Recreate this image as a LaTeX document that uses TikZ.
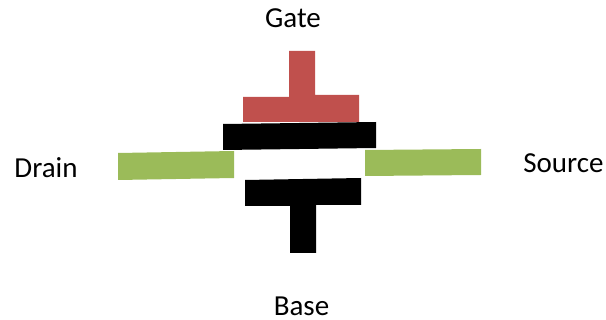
\documentclass[tikz,border=0pt]{standalone}
\usepackage{fontspec}
\setmainfont{Carlito}
\definecolor{gatered}{HTML}{C0504D}
\definecolor{leadgreen}{HTML}{9BBB59}
\begin{document}
\begin{tikzpicture}[x=1pt,y=-1pt,
  lbl/.style={anchor=base,inner sep=0pt,font=\fontsize{29}{31}\selectfont}]
\useasboundingbox (0,0) rectangle (606,320);
% gate electrode (T shape)
\fill[gatered] (289,51) -- (315,51) -- (315,95) -- (359,95) -- (359,122) -- (243,122) -- (243,97) -- (289,97) -- cycle;
% upper plate
\fill[black] (223,124) -- (376,122) -- (376,148) -- (223,150) -- cycle;
% drain and source leads
\fill[leadgreen] (118,153) -- (234,151) -- (234,178) -- (118,180) -- cycle;
\fill[leadgreen] (365,150) -- (481,149) -- (481,175) -- (365,176) -- cycle;
% lower plate and base stem
\fill[black] (245,180) -- (361,178) -- (361,205) -- (316,205) -- (316,253) -- (290,253) -- (290,206) -- (245,206) -- cycle;
% labels
\node[lbl] (gate) at (293,28) {Gate};
\node[lbl] (drain) at (46,178) {Drain};
\node[lbl] (source) at (563.5,173) {Source};
\node[lbl] (base) at (301.5,316) {Base};
\end{tikzpicture}
\end{document}
